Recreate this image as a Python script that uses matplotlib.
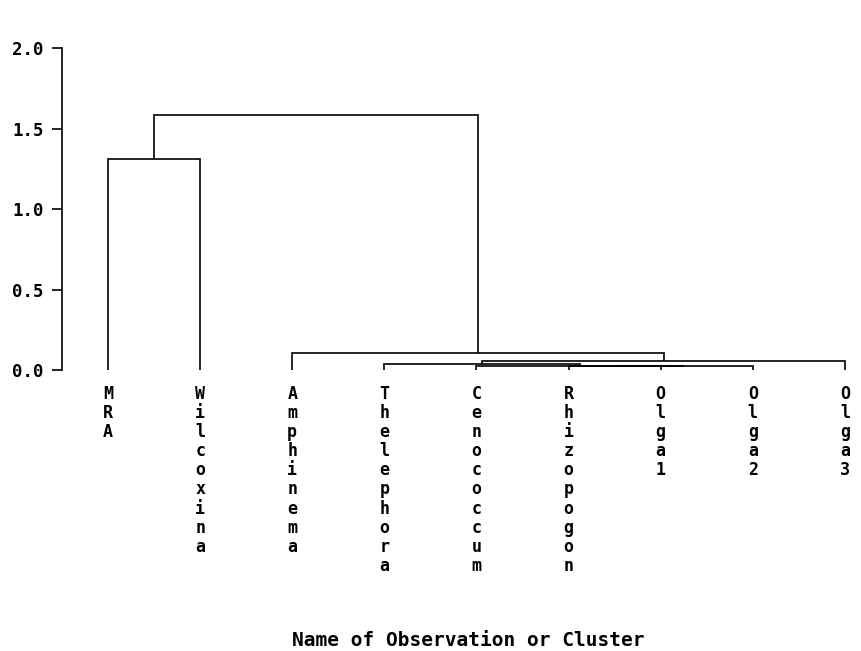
import matplotlib
matplotlib.use('Agg')
import matplotlib.pyplot as plt

# ── Data ──────────────────────────────────────────────────────────────────────
labels = ['MRA', 'Wilcoxina', 'Amphinema', 'Thelephora', 'Cenococcum',
          'Rhizopogon', 'Olga1', 'Olga2', 'Olga3']

# merges: (left child, right child, height); new nodes numbered from len(labels)
merge_left   = [5, 9, 4, 3, 12, 2, 0, 15]
merge_right  = [6, 7, 10, 11, 8, 13, 1, 14]
merge_height = [0.024, 0.025, 0.026, 0.038, 0.056, 0.107, 1.310, 1.585]

yticks = [0.0, 0.5, 1.0, 1.5, 2.0]

FONT = 'DejaVu Sans Mono'

fig = plt.figure(figsize=(8.62, 6.51), dpi=100)
ax = fig.add_axes([0.0719, 0.4316, 0.92, 0.4946])

# ── Build dendrogram ──────────────────────────────────────────────────────────
xpos = {i: i + 1 for i in range(len(labels))}
hgt = {i: 0.0 for i in range(len(labels))}
n = len(labels)
for k, (a, b, h) in enumerate(zip(merge_left, merge_right, merge_height)):
    xa, xb = xpos[a], xpos[b]
    ax.plot([xa, xa, xb, xb], [hgt[a], h, h, hgt[b]], color='black',
            linewidth=1.2, solid_capstyle='butt', solid_joinstyle='miter')
    xpos[n + k] = (xa + xb) / 2
    hgt[n + k] = h

ax.set_xlim(0.5, 9.11)
ax.set_ylim(0, 2.0)
for s in ['top', 'right', 'bottom']:
    ax.spines[s].set_visible(False)
ax.spines['left'].set_linewidth(1.2)
ax.set_xticks([])
ax.set_yticks(yticks)
ax.set_yticklabels([f'{v:.1f}' for v in yticks], fontfamily=FONT,
                   fontweight='bold', fontsize=12.5)
ax.tick_params(axis='y', direction='out', length=7, width=1.2, pad=6)

# vertical stacked leaf labels
for i, name in enumerate(labels):
    ax.text(i + 1, -0.09, '\n'.join(name), ha='center', va='top',
            fontfamily=FONT, fontweight='bold', fontsize=12,
            linespacing=1.085, clip_on=False)

fig.text(468 / 862, 1 - 646 / 651, 'Name of Observation or Cluster',
         ha='center', va='baseline', fontfamily=FONT, fontweight='bold',
         fontsize=14)

fig.savefig('out.png', dpi=100)
